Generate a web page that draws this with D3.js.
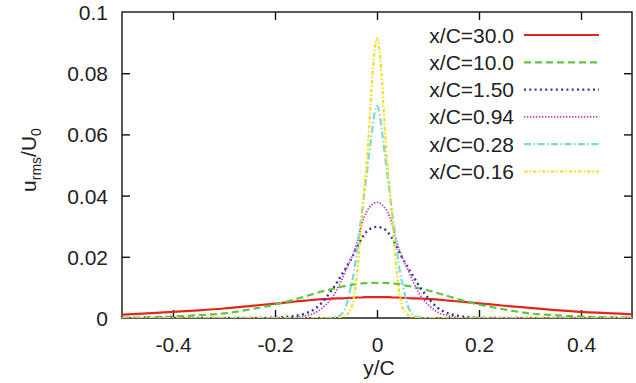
<!DOCTYPE html>
<html>
<head>
<meta charset="utf-8">
<script src="https://cdn.jsdelivr.net/npm/d3@7"></script>
<style>
  html, body { margin: 0; padding: 0; background: #fff; }
  svg { display: block; }
  text { font-family: "Liberation Sans", Arial, Helvetica, sans-serif; fill: #222; }
</style>
</head>
<body>
<svg id="chart" width="636" height="383"></svg>
<script>
// ---- data ----
const yC = [-0.5,-0.45,-0.4,-0.35,-0.3,-0.25,-0.2,-0.18,-0.16,-0.14,-0.12,-0.1,-0.09,-0.08,-0.07,-0.06,-0.05,-0.045,-0.04,-0.035,-0.03,-0.025,-0.02,-0.015,-0.01,-0.005,
  0,0.005,0.01,0.015,0.02,0.025,0.03,0.035,0.04,0.045,0.05,0.06,0.07,0.08,0.09,0.1,0.12,0.14,0.16,0.18,0.2,0.25,0.3,0.35,0.4,0.45,0.5];

const u_x30_0 = [0.0011,0.0015,0.0020,0.0025,0.0031,0.0039,0.0047,0.0050,0.0054,0.0057,0.0060,0.0062,0.0063,0.0064,0.0064,0.0065,0.0066,0.0066,0.0067,0.0067,0.0067,0.0068,0.0068,0.0068,0.0068,0.0068,
  0.0068,0.0068,0.0068,0.0068,0.0068,0.0068,0.0067,0.0067,0.0067,0.0066,0.0066,0.0065,0.0064,0.0064,0.0063,0.0062,0.0060,0.0057,0.0054,0.0051,0.0048,0.0040,0.0033,0.0026,0.0020,0.0016,0.0012];

const u_x10_0 = [0.0001,0.0002,0.0005,0.0009,0.0015,0.0028,0.0044,0.0052,0.0061,0.0071,0.0081,0.0090,0.0094,0.0098,0.0102,0.0105,0.0108,0.0110,0.0111,0.0112,0.0113,0.0114,0.0114,0.0115,0.0115,0.0115,
  0.0115,0.0115,0.0115,0.0115,0.0114,0.0114,0.0113,0.0112,0.0111,0.0110,0.0108,0.0105,0.0102,0.0098,0.0094,0.0090,0.0081,0.0071,0.0061,0.0052,0.0044,0.0028,0.0015,0.0009,0.0005,0.0002,0.0001];

const u_x1_50 = [0,0,0,0,0,0,0.0001,0.0003,0.0007,0.0015,0.0032,0.0066,0.0088,0.0112,0.0139,0.0167,0.0195,0.0211,0.0228,0.0245,0.0260,0.0272,0.0283,0.0290,0.0294,0.0297,
  0.0298,0.0297,0.0294,0.0290,0.0283,0.0272,0.0260,0.0245,0.0228,0.0211,0.0195,0.0167,0.0139,0.0112,0.0088,0.0066,0.0032,0.0015,0.0007,0.0003,0.0001,0,0,0,0,0,0];

const u_x0_94 = [0,0,0,0,0,0,0,0,0.0002,0.0007,0.0018,0.0044,0.0062,0.0088,0.0122,0.0160,0.0196,0.0218,0.0242,0.0272,0.0306,0.0331,0.0348,0.0361,0.0370,0.0376,
  0.0378,0.0376,0.0370,0.0361,0.0348,0.0331,0.0306,0.0272,0.0242,0.0218,0.0196,0.0160,0.0122,0.0088,0.0062,0.0044,0.0018,0.0007,0.0002,0,0,0,0,0,0,0,0];

const u_x0_28 = [0,0,0,0,0,0,0,0,0,0,0,0,0.0001,0.0003,0.0012,0.0042,0.0112,0.0150,0.0210,0.0280,0.0340,0.0408,0.0472,0.0540,0.0605,0.0668,
  0.0693,0.0668,0.0605,0.0540,0.0472,0.0408,0.0340,0.0280,0.0210,0.0150,0.0112,0.0042,0.0012,0.0003,0.0001,0,0,0,0,0,0,0,0,0,0,0,0];

const u_x0_16 = [0,0,0,0,0,0,0,0,0,0,0,0,0,0.0001,0.0003,0.0010,0.0035,0.0070,0.0130,0.0215,0.0318,0.0420,0.0510,0.0630,0.0770,0.0870,
  0.0914,0.0870,0.0770,0.0630,0.0510,0.0420,0.0318,0.0215,0.0130,0.0070,0.0035,0.0010,0.0003,0.0001,0,0,0,0,0,0,0,0,0,0,0,0,0];

const seriesLabels = ["x/C=30.0","x/C=10.0","x/C=1.50","x/C=0.94","x/C=0.28","x/C=0.16"];
const seriesValues = [u_x30_0, u_x10_0, u_x1_50, u_x0_94, u_x0_28, u_x0_16];
const xTicks = [-0.4,-0.2,0,0.2,0.4];
const yTicks = [0,0.02,0.04,0.06,0.08,0.1];

// ---- styles ----
const styles = [
  {color:"#e3261d", width:2.2, dash:null},
  {color:"#5fc63f", width:2.2, dash:"7,4"},
  {color:"#2b3c9e", width:2.4, dash:"2,3.3"},
  {color:"#c03cc0", width:1.8, dash:"1.4,1.6"},
  {color:"#7cd9d6", width:2.2, dash:"7,2.5,1.5,2.5"},
  {color:"#f0df1c", width:2.2, dash:"3.5,2,1.5,2"}
];

const W = 636, H = 383;
const m = {left:122, right:4, top:12, bottom:65};
const svg = d3.select("#chart");

const x = d3.scaleLinear().domain([-0.5,0.5]).range([m.left, W - m.right]);
const y = d3.scaleLinear().domain([0,0.1]).range([H - m.bottom, m.top]);

const fmt = d => d3.format("")(d).replace("\u2212","-");

// frame
svg.append("rect")
  .attr("x", x(-0.5)).attr("y", y(0.1))
  .attr("width", x(0.5)-x(-0.5)).attr("height", y(0)-y(0.1))
  .attr("fill","none").attr("stroke","#111").attr("stroke-width",1.4);

// axes with inward ticks
const tl = 8;
const gx = svg.append("g").attr("transform",`translate(0,${y(0)})`)
  .call(d3.axisBottom(x).tickValues(xTicks).tickSizeInner(-tl).tickSizeOuter(0).tickPadding(14).tickFormat(fmt));
const gxt = svg.append("g").attr("transform",`translate(0,${y(0.1)})`)
  .call(d3.axisTop(x).tickValues(xTicks).tickSizeInner(-tl).tickSizeOuter(0).tickFormat(""));
const gy = svg.append("g").attr("transform",`translate(${x(-0.5)},0)`)
  .call(d3.axisLeft(y).tickValues(yTicks).tickSizeInner(-tl).tickSizeOuter(0).tickPadding(14).tickFormat(fmt));
const gyr = svg.append("g").attr("transform",`translate(${x(0.5)},0)`)
  .call(d3.axisRight(y).tickValues(yTicks.filter(v=>v>0 && v<0.1)).tickSizeInner(-tl).tickSizeOuter(0).tickFormat(""));

[gx,gxt,gy,gyr].forEach(g => {
  g.select(".domain").remove();
  g.selectAll(".tick line").attr("stroke","#111").attr("stroke-width",1.4);
  g.selectAll("text").style("font-family",'"Liberation Sans", Arial, sans-serif')
    .style("font-size","21px").attr("fill","#222");
});
gy.selectAll(".tick").filter(d => d===0.1 || d===0).select("line").remove();
gx.selectAll(".tick text").attr("dy","0.95em");
gy.selectAll(".tick text").attr("dy","0.36em");

// curves
svg.append("clipPath").attr("id","clip").append("rect")
  .attr("x", x(-0.5)).attr("y", y(0.1)-2).attr("width", x(0.5)-x(-0.5)).attr("height", y(0)-y(0.1)+2);

const line = d3.line().x(d => x(d[0])).y(d => y(d[1])).curve(d3.curveMonotoneX);
const plot = svg.append("g").attr("clip-path","url(#clip)");
seriesValues.forEach((vals,i) => {
  const pts = yC.map((v,j) => [v, vals[j]]);
  const p = plot.append("path").datum(pts).attr("d", line)
    .attr("fill","none").attr("stroke", styles[i].color).attr("stroke-width", styles[i].width);
  if (styles[i].dash) p.attr("stroke-dasharray", styles[i].dash);
});

// legend
const lg = svg.append("g");
seriesLabels.forEach((lab,i) => {
  const ly = 35 + i*27.3;
  lg.append("text").attr("x",514).attr("y",ly).attr("dy","0.36em")
    .attr("text-anchor","end").style("font-size","21px").text(lab);
  const l = lg.append("line").attr("x1",524).attr("x2",599).attr("y1",ly).attr("y2",ly)
    .attr("stroke",styles[i].color).attr("stroke-width",styles[i].width);
  if (styles[i].dash) l.attr("stroke-dasharray",styles[i].dash);
});

// axis labels
svg.append("text").attr("x",379).attr("y",375).attr("text-anchor","middle")
  .style("font-size","21px").text("y/C");

const yl = svg.append("text").attr("transform","translate(36,160) rotate(-90)")
  .attr("text-anchor","middle").style("font-size","21px");
yl.append("tspan").text("u");
yl.append("tspan").attr("dy",5).style("font-size","14px").text("rms");
yl.append("tspan").attr("dy",-5).text("/U");
yl.append("tspan").attr("dy",5).style("font-size","14px").text("0");
</script>
</body>
</html>
